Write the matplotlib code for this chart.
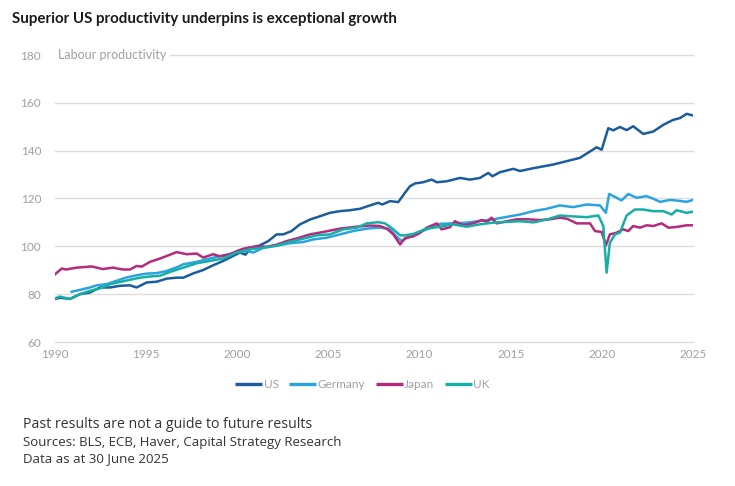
import matplotlib
matplotlib.use("Agg")
import matplotlib.pyplot as plt
from matplotlib.lines import Line2D

# ---------------- data ----------------
us_years = [1990.0, 1990.27, 1990.82, 1991.37, 1991.92, 1992.47, 1993.02, 1993.57, 1994.11, 1994.48,
            1995.03, 1995.58, 1996.13, 1996.67, 1997.04, 1997.59, 1998.13, 1998.68, 1999.23, 1999.78,
            2000.15, 2000.45, 2000.7, 2001.24, 2001.7, 2002.16, 2002.52, 2002.98, 2003.44, 2003.99,
            2004.54, 2005.08, 2005.63, 2006.18, 2006.73, 2007.28, 2007.73, 2007.95, 2008.38, 2008.83,
            2009.2, 2009.47, 2009.75, 2010.2, 2010.66, 2010.94, 2011.49, 2012.22, 2012.77, 2013.31,
            2013.77, 2014.0, 2014.41, 2015.14, 2015.51, 2016.2, 2017.33, 2018.8, 2019.71, 2019.99,
            2020.35, 2020.63, 2020.99, 2021.36, 2021.72, 2022.27, 2022.82, 2023.37, 2023.92, 2024.28,
            2024.65, 2025.0]
us_values = [78, 78.5, 78, 80, 80.7, 82.8, 82.8, 83.5, 83.7, 82.8,
             84.9, 85.2, 86.5, 86.9, 86.9, 88.7, 90.1, 92.1, 93.9, 96,
             97.4, 96.5, 99, 100.4, 102.2, 105, 105, 106.4, 109.2, 111.2,
             112.6, 114, 114.7, 115.1, 115.7, 117.1, 118.2, 117.5, 118.9, 118.5,
             122.4, 125.1, 126.3, 126.8, 127.9, 126.8, 127.2, 128.6, 127.9, 128.6,
             130.7, 129.3, 131, 132.4, 131.5, 132.6, 134.2, 137, 141.4, 140.4,
             149.4, 148.5, 149.9, 148.6, 150.2, 147, 148, 150.8, 152.9, 153.6,
             155.4, 154.7]

germany_years = [1990.91, 1991.37, 1991.92, 1992.29, 1992.84, 1993.38, 1993.93, 1994.48, 1995.03, 1995.58,
                 1996.13, 1996.76, 1997.04, 1997.77, 1998.5, 1999.23, 1999.97, 2000.52, 2000.88, 2001.43,
                 2002.16, 2002.89, 2003.62, 2004.17, 2004.9, 2005.63, 2006.36, 2007.1, 2007.83, 2008.38,
                 2008.74, 2009.02, 2009.29, 2009.66, 2010.39, 2011.12, 2011.85, 2012.58, 2013.31, 2014.04,
                 2014.78, 2015.51, 2016.24, 2016.97, 2017.7, 2018.43, 2019.17, 2019.9, 2020.22, 2020.4,
                 2020.81, 2021.08, 2021.45, 2021.9, 2022.45, 2022.82, 2023.19, 2023.74, 2024.28, 2024.65,
                 2025.0]
germany_values = [81, 81.8, 82.8, 83.7, 84.2, 85.6, 87, 87.9, 88.6, 88.8,
                  89.7, 91.5, 92.5, 93.5, 94.9, 96.2, 97.4, 98, 97.4, 99.4,
                  100.3, 101.3, 101.8, 102.9, 103.6, 105, 106.4, 107.4, 107.9, 107.1,
                  104, 102.2, 103.5, 104.9, 107.1, 109.4, 109.6, 109.9, 110.6, 111.3,
                  112.3, 113.3, 114.7, 115.7, 117.1, 116.4, 117.5, 117.1, 114, 121.9,
                  120.3, 119.2, 121.9, 120.3, 121, 119.9, 118.6, 119.4, 119, 118.6,
                  119.4]

japan_years = [1990.0, 1990.37, 1990.6, 1991.19, 1991.74, 1992.0, 1992.29, 1992.6, 1993.2, 1993.5,
               1993.75, 1994.11, 1994.48, 1994.75, 1995.21, 1995.76, 1996.31, 1996.67, 1997.22, 1997.77,
               1998.13, 1998.68, 1999.05, 1999.6, 1999.97, 2000.33, 2001.06, 2001.61, 2002.16, 2002.71,
               2003.4, 2003.99, 2004.72, 2005.63, 2006.55, 2007.28, 2007.83, 2008.2, 2008.56, 2008.93,
               2009.2, 2009.66, 2010.0, 2010.39, 2010.94, 2011.21, 2011.67, 2011.94, 2012.4, 2012.95,
               2013.4, 2013.7, 2013.95, 2014.23, 2014.78, 2015.32, 2015.96, 2016.6, 2017.15, 2017.7,
               2018.1, 2018.62, 2019.35, 2019.62, 2019.99, 2020.22, 2020.44, 2020.81, 2021.17, 2021.45,
               2021.72, 2022.09, 2022.45, 2022.82, 2023.28, 2023.65, 2024.1, 2024.65, 2025.0]
japan_values = [88.3, 90.7, 90.3, 91.1, 91.4, 91.6, 91.1, 90.5, 91.1, 90.6,
                90.3, 90.3, 91.8, 91.5, 93.5, 94.9, 96.5, 97.6, 96.7, 97,
                95.3, 96.7, 95.8, 96.7, 98, 99, 100.1, 99.8, 100.7, 102.2,
                103.6, 105, 106, 107.4, 108.2, 108.7, 108.5, 107.4, 105, 100.8,
                103.4, 104.2, 105.5, 107.8, 109.6, 107.1, 108, 110.5, 108.8, 109.6,
                111, 110.3, 112, 109.6, 110.5, 111.3, 111.3, 111, 111.3, 112,
                111.5, 109.6, 109.6, 106.4, 106, 100.4, 105, 105.7, 107.1, 106.4,
                108.5, 107.8, 108.8, 108.5, 109.6, 107.8, 108.1, 108.8, 108.8]

uk_years = [1990.0, 1990.27, 1990.82, 1991.37, 1991.92, 1992.47, 1993.02, 1993.57, 1994.11, 1994.66,
            1995.21, 1995.76, 1996.31, 1997.04, 1997.77, 1998.5, 1999.23, 1999.97, 2000.7, 2001.43,
            2002.16, 2002.89, 2003.62, 2004.36, 2005.08, 2005.81, 2006.55, 2007.1, 2007.73, 2008.1,
            2008.56, 2008.93, 2009.2, 2009.66, 2010.39, 2011.12, 2011.85, 2012.58, 2013.31, 2014.04,
            2014.78, 2015.51, 2016.24, 2016.97, 2017.7, 2018.43, 2019.17, 2019.81, 2020.08, 2020.26,
            2020.44, 2020.72, 2020.99, 2021.17, 2021.36, 2021.81, 2022.27, 2022.82, 2023.37, 2023.83,
            2024.1, 2024.65, 2025.0]
uk_values = [78.2, 79, 78, 80, 81.4, 82.4, 84.2, 85.1, 86, 86.9,
             87.4, 87.7, 89.3, 91.1, 92.9, 93.9, 94.9, 97.4, 98.8, 99.4,
             100.3, 101.9, 103.2, 104.6, 105, 107.1, 107.8, 109.6, 110.1, 109.6,
             107.1, 104.6, 104.6, 105.2, 107.4, 108.2, 109.2, 108.2, 109.2, 109.9,
             110.2, 110.5, 110, 111.2, 112.9, 112.5, 112.2, 112.9, 108.5, 89,
             101.5, 105, 105.7, 109.2, 112.9, 115.4, 115.4, 114.7, 114.7, 113.3,
             115.1, 114, 114.5]

series_names = ["US", "Germany", "Japan", "UK"]
x_ticks = [1990, 1995, 2000, 2005, 2010, 2015, 2020, 2025]
y_ticks = [60, 80, 100, 120, 140, 160, 180]

# ---------------- styling ----------------
colors = ["#1a5d9e", "#2aa3e0", "#b52a7b", "#17aea6"]
tick_color = "#a0a0a0"
grid_color = "#dddddd"
plt.rcParams["font.family"] = ["Lato", "DejaVu Sans"]

fig = plt.figure(figsize=(7.35, 4.86), dpi=100)
ax = fig.add_axes([55 / 735, 1 - 342 / 486, (693 - 55) / 735, (342 - 55) / 486])

data = [(us_years, us_values), (germany_years, germany_values),
        (japan_years, japan_values), (uk_years, uk_values)]
for (xs, ys), name, c in zip(data, series_names, colors):
    ax.plot(xs, ys, color=c, lw=1.8, label=name, solid_joinstyle="round", zorder=3)

ax.set_xlim(1990, 2025)
ax.set_ylim(60, 180)
ax.set_xticks(x_ticks)
ax.set_yticks(y_ticks)
for s in ax.spines.values():
    s.set_visible(False)
ax.tick_params(axis="both", length=0, colors=tick_color, labelsize=8.5)
ax.tick_params(axis="y", pad=10)
ax.tick_params(axis="x", pad=5)
for yv in y_ticks:
    ax.axhline(yv, color=grid_color, lw=1.0, zorder=1, clip_on=False)

ax.text(1990.15, 180, "Labour productivity", color=tick_color, fontsize=9,
        va="center", ha="left", zorder=4,
        bbox=dict(facecolor="white", edgecolor="none", pad=2.5))

handles = [Line2D([0], [0], color=c, lw=2.4, solid_capstyle="butt") for c in colors]
leg = fig.legend(handles, series_names, loc="center", bbox_to_anchor=(0.493, 1 - 385 / 486),
                 ncol=4, frameon=False, fontsize=8.5, handlelength=2.3, handletextpad=0.1,
                 columnspacing=0.9)
for t in leg.get_texts():
    t.set_color(tick_color)

fig.text(12 / 735, 1 - 19 / 486, "Superior US productivity underpins is exceptional growth",
         fontsize=10.9, fontweight="bold", color="#1a1a1a", va="center", ha="left")

foot_family = ["Open Sans", "DejaVu Sans"]
fig.text(23 / 735, 1 - 425 / 486, "Past results are not a guide to future results",
         fontsize=10.2, color="#333333", va="center", ha="left", family=foot_family)
fig.text(23 / 735, 1 - 442 / 486, "Sources: BLS, ECB, Haver, Capital Strategy Research",
         fontsize=9.5, color="#333333", va="center", ha="left", family=foot_family)
fig.text(23 / 735, 1 - 459 / 486, "Data as at 30 June 2025",
         fontsize=9.5, color="#333333", va="center", ha="left", family=foot_family)

fig.savefig("out.png", dpi=100, facecolor="white")
